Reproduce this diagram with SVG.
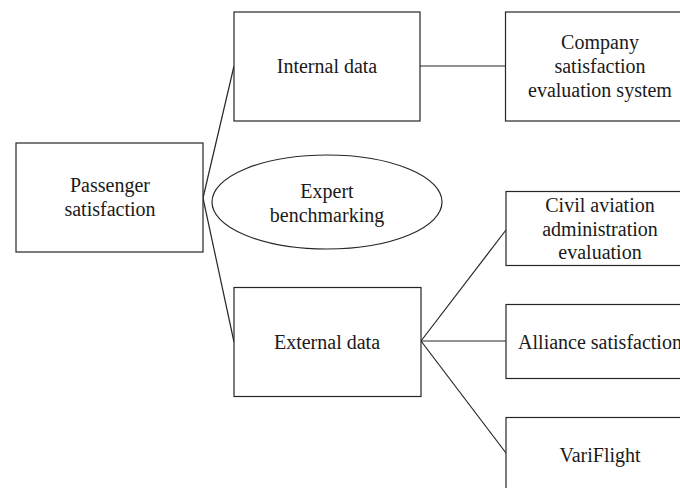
<svg xmlns="http://www.w3.org/2000/svg" width="680" height="488" viewBox="0 0 680 488">
<style>
.box{fill:#fff;stroke:#262626;stroke-width:1.2}
.ln{stroke:#262626;stroke-width:1.2;fill:none}
text{font-family:"Liberation Serif","Times New Roman",serif;font-size:20px;fill:#1a1a1a;text-anchor:middle}
</style>
<rect width="680" height="488" fill="#fff"/>
<g id="connectors">
<line class="ln" x1="203" y1="198" x2="234" y2="66"/>
<line class="ln" x1="203" y1="198" x2="234" y2="342"/>
<line class="ln" x1="420" y1="66" x2="505.5" y2="66"/>
<line class="ln" x1="421" y1="341" x2="506" y2="230"/>
<line class="ln" x1="421" y1="341" x2="506" y2="341"/>
<line class="ln" x1="421" y1="341" x2="506" y2="453"/>
</g>
<g id="passenger">
<rect class="box" x="16" y="143" width="187" height="109"/>
<text x="110" y="192">Passenger</text>
<text x="110" y="216">satisfaction</text>
</g>
<g id="internal">
<rect class="box" x="234" y="12" width="186" height="109"/>
<text x="327" y="73">Internal data</text>
</g>
<g id="expert">
<ellipse class="box" cx="327" cy="202" rx="115" ry="47"/>
<text x="327" y="198">Expert</text>
<text x="327" y="222">benchmarking</text>
</g>
<g id="external">
<rect class="box" x="234" y="287.5" width="187" height="109"/>
<text x="327" y="349">External data</text>
</g>
<g id="company">
<rect class="box" x="505.5" y="12" width="190" height="109"/>
<text x="600" y="49">Company</text>
<text x="600" y="73">satisfaction</text>
<text x="600" y="97">evaluation system</text>
</g>
<g id="civil">
<rect class="box" x="506" y="191.5" width="190" height="74"/>
<text x="600" y="212">Civil aviation</text>
<text x="600" y="235.5">administration</text>
<text x="600" y="259">evaluation</text>
</g>
<g id="alliance">
<rect class="box" x="506" y="304.5" width="190" height="74"/>
<text x="600" y="349">Alliance satisfaction</text>
</g>
<g id="variflight">
<rect class="box" x="506" y="417.5" width="190" height="100"/>
<text x="600" y="462">VariFlight</text>
</g>
</svg>
